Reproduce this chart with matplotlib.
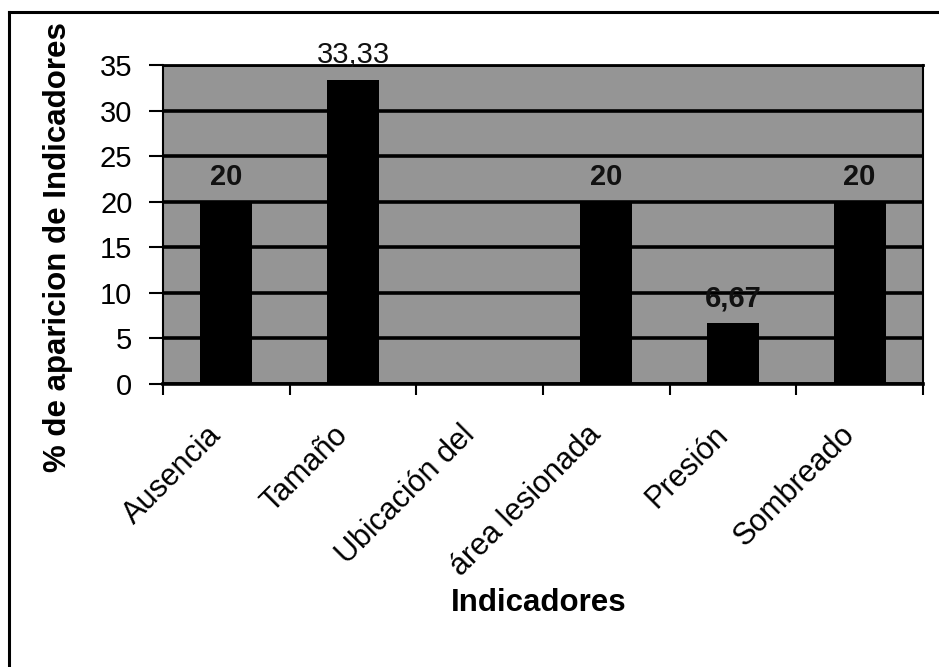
import matplotlib
matplotlib.use("Agg")
import matplotlib.pyplot as plt
from matplotlib.lines import Line2D
import numpy as np

plt.rcParams["font.family"] = ["Liberation Sans", "DejaVu Sans"]

# ── data ───────────────────────────────────────────────────────────────────────
categories = ["Ausencia", "Tamaño", "Ubicación del", "área lesionada", "Presión", "Sombreado"]
values     = [20, 33.33, 0, 20, 6.67, 20]
labels     = ["20", "33,33", "", "20", "6,67", "20"]
yticks     = [0, 5, 10, 15, 20, 25, 30, 35]

W, H = 939, 667   # px
PT = 72 / 100     # points per pixel at 100 dpi

# ── figure ─────────────────────────────────────────────────────────────────────
fig = plt.figure(figsize=(W / 100, H / 100), dpi=100)
fig.patch.set_facecolor("white")
ax = fig.add_axes([163 / W, 1 - 384 / H, (923 - 163) / W, (384 - 65) / H])
ax.set_facecolor("#959595")

x = np.arange(len(categories))
ax.bar(x, values, width=0.41, color="black", zorder=3)

for xi, v, lab in zip(x, values, labels):
    if not lab:
        continue
    weight = "normal" if v > 30 else "bold"
    ax.annotate(lab, xy=(xi, v), xytext=(0, 17 * PT), textcoords="offset points",
                ha="center", va="baseline", fontsize=21, fontweight=weight,
                color="#111111", zorder=4, annotation_clip=False)

ax.set_xlim(-0.5, len(categories) - 0.5)
ax.set_ylim(0, 35)
ax.set_yticks(yticks)
ax.set_yticklabels([str(t) for t in yticks], fontsize=21)
ax.yaxis.grid(True, color="black", linewidth=2.6, zorder=1)
ax.set_axisbelow(True)

# ticks sit between the categories, labels are drawn by hand below
ax.set_xticks(np.arange(len(categories) + 1) - 0.5)
ax.set_xticklabels([])
ax.tick_params(axis="x", length=8, width=1.5, direction="out")
ax.tick_params(axis="y", length=10, width=1.5, direction="out", pad=12)

for xi, cat in zip(x, categories):
    ax.annotate(cat, xy=(xi, 0), xycoords=("data", "axes fraction"),
                xytext=(-4 * PT, -52 * PT), textcoords="offset points",
                rotation=45, rotation_mode="anchor", ha="right", va="baseline",
                fontsize=22, annotation_clip=False)

for s in ax.spines.values():
    s.set_linewidth(1.5)
    s.set_color("black")
ax.spines["bottom"].set_linewidth(2.6)
ax.spines["top"].set_linewidth(2)

fig.text(58 / W, 1 - 247 / H, "% de aparicion de Indicadores", rotation=90,
         ha="center", va="center", fontsize=22.5, fontweight="bold")
fig.text(539 / W, 1 - 603 / H, "Indicadores", ha="center", va="center",
         fontsize=22.5, fontweight="bold")

# outer frame (only top and left edges show in the scan)
fig.add_artist(Line2D([9 / W, 9 / W], [0, 1 - 12 / H], color="black", linewidth=2.2))
fig.add_artist(Line2D([9 / W, 1], [1 - 12 / H, 1 - 12 / H], color="black", linewidth=2.2))

fig.savefig("out.png", dpi=100)
